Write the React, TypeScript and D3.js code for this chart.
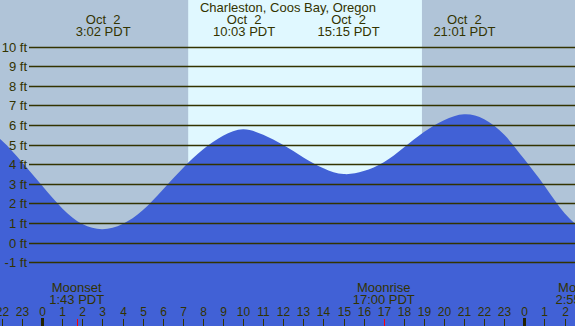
import * as d3 from 'd3'
import { useEffect, useRef } from 'react'

// hourly tide heights (ft), hour 0 = Oct 2 00:00 PDT
const tideHours = [-3, -2, -1, 0, 1, 2, 3, 4, 5, 6, 7, 8, 9, 10, 11, 12, 13, 14, 15, 16, 17, 18, 19, 20, 21, 22, 23, 24, 25, 26, 27]
const tideFeet = [5.95, 5.2, 4.1, 2.9, 1.75, 0.95, 0.69, 0.95, 1.65, 2.7, 3.8, 4.75, 5.45, 5.78, 5.5, 4.98, 4.35, 3.8, 3.5, 3.65, 4.1, 4.85, 5.65, 6.25, 6.55, 6.3, 5.5, 4.25, 2.9, 1.5, 0.6]

// highs and lows
const eventHours = [3 + 2 / 60, 10 + 3 / 60, 15 + 15 / 60, 21 + 1 / 60]
const eventLabels = ['3:02 PDT', '10:03 PDT', '15:15 PDT', '21:01 PDT']
const eventDate = 'Oct  2'

const sunrise = 7 + 16 / 60
const sunset = 18 + 54 / 60

const moonHours = [1 + 43 / 60, 17, 26 + 55 / 60]
const moonNames = ['Moonset', 'Moonrise', 'Moonset']
const moonTimes = ['1:43 PDT', '17:00 PDT', '2:55 PDT']

const feetTicks = [-1, 0, 1, 2, 3, 4, 5, 6, 7, 8, 9, 10]
const hourTicks = d3.range(-2, 27)

const title = 'Charleston, Coos Bay, Oregon'

export default function App() {
	const svgRef = useRef<SVGSVGElement>(null)

	useEffect(() => {
		const W = 575
		const H = 326
		const svg = d3.select(svgRef.current)
		svg.selectAll('*').remove()

		const x = d3.scaleLinear().domain([0, 24]).range([42.2, 524.4])
		const y = d3.scaleLinear().domain([0, 10]).range([242.7, 46.6])
		const ink = '#333300'
		const font = '"Liberation Sans", Arial, sans-serif'
		const fs = 13

		// night / day background
		svg.append('rect').attr('x', 0).attr('y', 0).attr('width', W).attr('height', H).attr('fill', '#b0c4d8')
		svg
			.append('rect')
			.attr('x', x(sunrise))
			.attr('y', 0)
			.attr('width', x(sunset) - x(sunrise))
			.attr('height', H)
			.attr('fill', '#e0f8ff')

		// tide area
		const pts = tideHours.map((h, i) => ({ h, v: tideFeet[i] }))
		const area = d3
			.area<{ h: number; v: number }>()
			.x((d) => x(d.h))
			.y0(H)
			.y1((d) => y(d.v))
			.curve(d3.curveNatural)
		svg.append('path').datum(pts).attr('d', area).attr('fill', '#4161d6')

		// grid lines + labels
		feetTicks.forEach((f) => {
			const yy = Math.round(y(f)) + 0.5
			svg
				.append('line')
				.attr('x1', 29)
				.attr('x2', W)
				.attr('y1', yy)
				.attr('y2', yy)
				.attr('stroke', ink)
				.attr('stroke-width', 1.3)
			svg
				.append('text')
				.attr('x', 27)
				.attr('y', yy + 4.5)
				.attr('text-anchor', 'end')
				.attr('font-family', font)
				.attr('font-size', fs)
				.attr('fill', ink)
				.text(`${f} ft`)
		})

		// title
		svg
			.append('text')
			.attr('x', 288)
			.attr('y', 12)
			.attr('text-anchor', 'middle')
			.attr('font-family', font)
			.attr('font-size', fs)
			.attr('fill', ink)
			.text(title)

		// tide events
		eventHours.forEach((h, i) => {
			const g = svg
				.append('text')
				.attr('text-anchor', 'middle')
				.attr('font-family', font)
				.attr('font-size', fs)
				.attr('fill', ink)
				.style('white-space', 'pre')
			g.append('tspan').attr('x', x(h)).attr('y', 24).text(eventDate)
			g.append('tspan').attr('x', x(h)).attr('y', 36).text(eventLabels[i])
		})

		// moon
		moonHours.forEach((h, i) => {
			const g = svg
				.append('text')
				.attr('text-anchor', 'middle')
				.attr('font-family', font)
				.attr('font-size', fs)
				.attr('fill', ink)
			g.append('tspan').attr('x', x(h)).attr('y', 292).text(moonNames[i])
			g.append('tspan').attr('x', x(h)).attr('y', 304).text(moonTimes[i])
		})

		// hour ticks
		hourTicks.forEach((h) => {
			const xx = Math.round(x(h)) + 0.5
			const label = ((h % 24) + 24) % 24
			svg
				.append('text')
				.attr('x', xx)
				.attr('y', 316)
				.attr('text-anchor', 'middle')
				.attr('font-family', font)
				.attr('font-size', 12)
				.attr('fill', ink)
				.text(label)
			const midnight = label === 0
			svg
				.append('line')
				.attr('x1', xx)
				.attr('x2', xx)
				.attr('y1', midnight ? 318 : 319)
				.attr('y2', H)
				.attr('stroke', midnight ? '#222200' : ink)
				.attr('stroke-width', midnight ? 3 : 1)
		})
		moonHours.forEach((h) => {
			const xx = Math.round(x(h)) + 0.5
			svg
				.append('line')
				.attr('x1', xx)
				.attr('x2', xx)
				.attr('y1', 319)
				.attr('y2', H)
				.attr('stroke', '#ff0000')
				.attr('stroke-width', 1)
		})
	}, [])

	return (
		<svg
			ref={svgRef}
			width={575}
			height={326}
			style={{ position: 'absolute', left: 0, top: 0, display: 'block' }}
		/>
	)
}
